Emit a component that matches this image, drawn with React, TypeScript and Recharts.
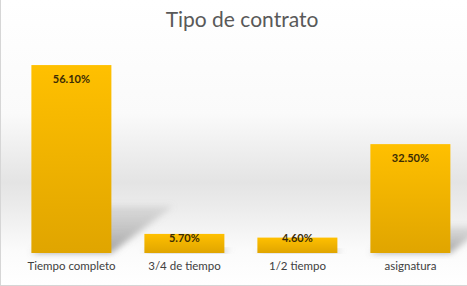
import React from 'react';
import { BarChart, Bar, XAxis, YAxis, LabelList } from 'recharts';

const categories = ['Tiempo completo', '3/4 de tiempo', '1/2 tiempo', 'asignatura'];
const percents = [56.1, 5.7, 4.6, 32.5];

const data = categories.map((name, i) => ({ name, value: percents[i] }));

const FONT = 'Lato, "Open Sans", sans-serif';

// bar with a soft perspective shadow falling to the right
const ShadowBar = (props: any) => {
  const { x, y, width, height } = props;
  const base = y + height;
  const dx = height * 0.33;
  const dy = height * 0.25;
  return (
    <g>
      <polygon
        points={`${x},${base} ${x + dx},${base - dy} ${x + width + dx},${base - dy} ${x + width},${base}`}
        fill="url(#shadowGrad)"
        filter="url(#soft)"
      />
      <rect x={x} y={y} width={width} height={height} fill="url(#barGrad)" />
    </g>
  );
};

const renderLabel = (props: any) => {
  const { x, y, width, height, value } = props;
  const off = Math.min(15, height - 14);
  return (
    <text
      x={x + width / 2}
      y={y + off}
      textAnchor="middle"
      dominantBaseline="middle"
      fontFamily={FONT}
      fontWeight={700}
      fontSize={11}
      fill="#3b2c05"
    >
      {value.toFixed(2)}%
    </text>
  );
};

export default function App() {
  return (
    <div
      style={{
        position: 'fixed',
        left: 0,
        top: 0,
        width: 467,
        height: 286,
        background:
          'linear-gradient(to bottom, #ffffff 0%, #fafafa 40%, #e4e4e4 64%, #ebebeb 72%, #fbfbfb 88%, #ffffff 100%)',
        borderLeft: '1px solid #d6d6d6',
        borderBottom: '1px solid #d6d6d6',
        boxSizing: 'border-box',
        overflow: 'hidden',
      }}
    >
      <div
        style={{
          position: 'absolute',
          top: 6,
          left: 0,
          width: 482,
          textAlign: 'center',
          fontFamily: FONT,
          fontSize: 21,
          color: '#595959',
        }}
      >
        Tipo de contrato
      </div>
      <BarChart
        width={467}
        height={286}
        data={data}
        margin={{ top: 52, right: 0, left: 15, bottom: 0 }}
        barCategoryGap="14.5%"
        style={{ position: 'absolute', left: -1, top: 0 }}
      >
        <defs>
          <linearGradient id="barGrad" x1="0" y1="0" x2="0" y2="1">
            <stop offset="0%" stopColor="#ffc000" />
            <stop offset="100%" stopColor="#e0a500" />
          </linearGradient>
          <linearGradient id="shadowGrad" x1="0" y1="1" x2="0" y2="0">
            <stop offset="0%" stopColor="#7a7a7a" stopOpacity={0.7} />
            <stop offset="100%" stopColor="#a0a0a0" stopOpacity={0.25} />
          </linearGradient>
          <filter id="soft" x="-20%" y="-20%" width="140%" height="140%">
            <feGaussianBlur stdDeviation="3" />
          </filter>
        </defs>
        <XAxis
          dataKey="name"
          height={33}
          axisLine={false}
          tickLine={false}
          interval={0}
          tick={{ fontSize: 11.5, fill: '#404040', fontFamily: FONT }}
          dy={1}
        />
        <YAxis hide domain={[0, 60]} />
        <Bar dataKey="value" shape={ShadowBar} isAnimationActive={false}>
          <LabelList dataKey="value" content={renderLabel} />
        </Bar>
      </BarChart>
    </div>
  );
}
